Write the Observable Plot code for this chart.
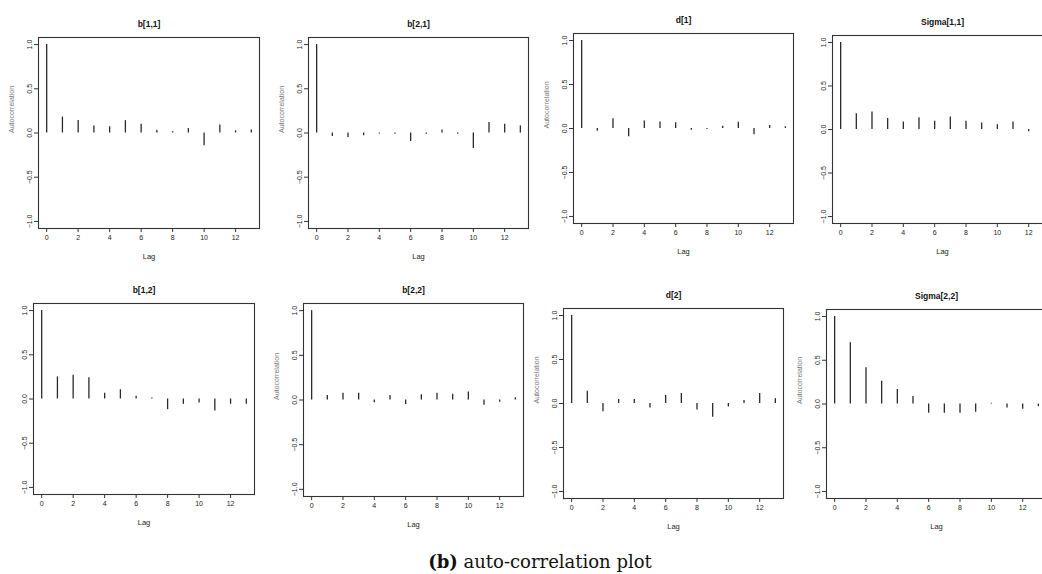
<!DOCTYPE html>
<html>
<head>
<meta charset="utf-8">
<script src="https://cdn.jsdelivr.net/npm/d3@7"></script>
<script src="https://cdn.jsdelivr.net/npm/@observablehq/plot@0.6"></script>
<style>
  html, body { margin: 0; padding: 0; background: #fff; }
  #page { position: relative; width: 1042px; height: 574px; overflow: hidden; background: #fff; }
  .cell { position: absolute; }
  .cell svg { max-width: none !important; }
  #caption { position: absolute; left: 0; width: 1080px; top: 551px; text-align: center;
    font-family: "DejaVu Serif", "Liberation Serif", serif; font-size: 18px; color: #111; }
</style>
</head>
<body>
<div id="page">
  <div id="caption"><b>(b)</b> auto-correlation plot</div>
</div>
<script>
// ---- data ----
const titles = ["b[1,1]", "b[2,1]", "d[1]", "Sigma[1,1]", "b[1,2]", "b[2,2]", "d[2]", "Sigma[2,2]"];
const lags = [0, 1, 2, 3, 4, 5, 6, 7, 8, 9, 10, 11, 12, 13];
const acf_b11 = [1, 0.18, 0.14, 0.08, 0.07, 0.14, 0.10, 0.03, 0.015, 0.05, -0.145, 0.09, 0.025, 0.035];
const acf_b21 = [1, -0.04, -0.05, -0.03, -0.01, -0.015, -0.095, -0.015, 0.035, -0.015, -0.175, 0.12, 0.10, 0.08];
const acf_d1 = [1, -0.03, 0.11, -0.095, 0.085, 0.075, 0.065, -0.02, -0.01, 0.025, 0.07, -0.07, 0.035, 0.02];
const acf_S11 = [1, 0.18, 0.20, 0.125, 0.085, 0.135, 0.095, 0.145, 0.095, 0.075, 0.055, 0.085, -0.025, 0.03];
const acf_b12 = [1, 0.25, 0.27, 0.24, 0.065, 0.105, 0.03, 0.01, -0.12, -0.06, -0.045, -0.135, -0.06, -0.06];
const acf_b22 = [1, 0.05, 0.075, 0.075, -0.03, 0.05, -0.05, 0.06, 0.075, 0.065, 0.09, -0.06, -0.025, 0.025];
const acf_d2 = [1, 0.14, -0.095, 0.045, 0.045, -0.05, 0.09, 0.115, -0.075, -0.155, -0.04, 0.035, 0.115, 0.055];
const acf_S22 = [1, 0.70, 0.415, 0.26, 0.165, 0.085, -0.105, -0.105, -0.105, -0.095, 0.01, -0.045, -0.06, -0.03];
const series = [acf_b11, acf_b21, acf_d1, acf_S11, acf_b12, acf_b22, acf_d2, acf_S22];
const xTicks = [0, 2, 4, 6, 8, 10, 12];
const yTicks = [-1, -0.5, 0, 0.5, 1];
const showYLabel = [true, true, true, false, false, true, true, true];

// ---- layout (frame rectangles in page pixels) ----
const frames = [
  {l: 38, t: 37, w: 221, h: 191},
  {l: 308, t: 37, w: 220, h: 191},
  {l: 573, t: 33, w: 220, h: 190},
  {l: 832, t: 35, w: 220, h: 188},
  {l: 33, t: 303, w: 221, h: 191},
  {l: 303, t: 303, w: 220, h: 193},
  {l: 563, t: 308, w: 220, h: 190},
  {l: 826, t: 309, w: 220, h: 189}
];
const mL = 40, mT = 30, mB = 40, mR = 4;
const page = document.getElementById("page");

titles.forEach((title, i) => {
  const f = frames[i];
  const data = lags.map((lag, j) => ({lag, acf: series[i][j]}));
  const marks = [
    Plot.frame({stroke: "#333", strokeWidth: 1.1}),
    Plot.ruleX(data, {x: "lag", y1: 0, y2: "acf", stroke: "#2a2a2a", strokeWidth: 1.3}),
    Plot.axisX({ticks: xTicks, tickSize: 4, tickPadding: 3, label: null, fill: "#222", stroke: "#333"}),
    Plot.axisY({ticks: yTicks, tickFormat: ".1f", tickRotate: -90, tickSize: 4, tickPadding: 3, label: null, fill: "#222", stroke: "#333"}),
    Plot.text(["Lag"], {text: d => d, frameAnchor: "bottom", dy: 30, fill: "#222", fontSize: 7.5}),
    Plot.text([title], {text: d => d, frameAnchor: "top", dy: -17, fill: "#111", fontSize: 8.5, fontWeight: "bold"})
  ];
  if (showYLabel[i]) {
    marks.push(Plot.text(["Autocorrelation"], {text: d => d, frameAnchor: "left", dx: -27, rotate: -90, fill: "#777", fontSize: 7}));
  }
  const W = mL + f.w + mR, H = mT + f.h + mB;
  const chart = Plot.plot({
    width: W,
    height: H,
    marginLeft: mL, marginTop: mT, marginBottom: mB, marginRight: mR,
    style: {fontFamily: "'Liberation Sans', Arial, sans-serif", fontSize: "7px", background: "transparent", overflow: "visible", maxWidth: "none"},
    x: {domain: [-0.52, 13.52]},
    y: {domain: [-1.08, 1.08]},
    marks
  });
  const div = document.createElement("div");
  div.className = "cell";
  div.style.left = (f.l - mL) + "px";
  div.style.top = (f.t - mT) + "px";
  div.style.width = W + "px";
  div.style.height = H + "px";
  div.appendChild(chart);
  page.appendChild(div);
});
</script>
</body>
</html>
